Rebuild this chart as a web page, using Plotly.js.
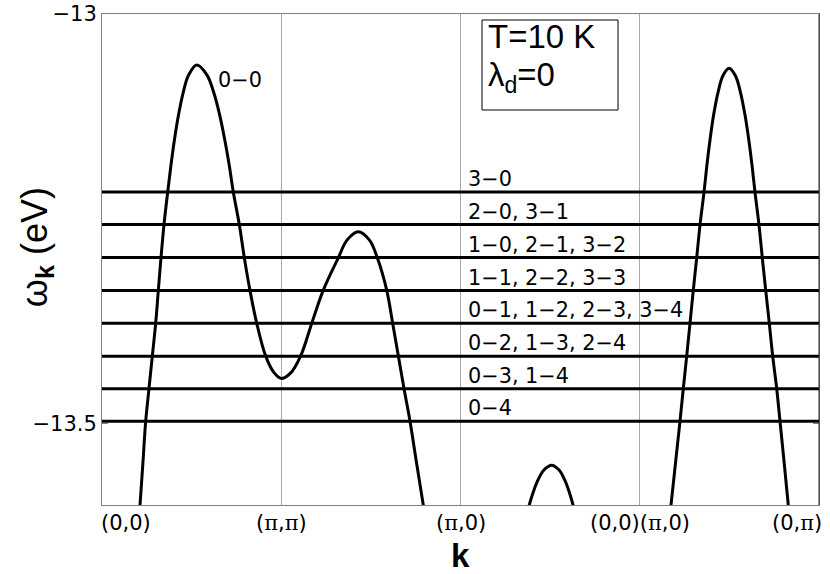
<!DOCTYPE html>
<html>
<head>
<meta charset="utf-8">
<script src="https://cdn.plot.ly/plotly-3.0.1.min.js"></script>
<style>
  html, body { margin: 0; padding: 0; background: #fff; }
  #chart { width: 830px; height: 574px; }
</style>
</head>
<body>
<div id="chart"></div>
<script>
// path coordinate: 0=(0,0), 1=(pi,pi), 2=(pi,0), 3=(0,0)|(pi,0), 4=(0,pi)
const tickPos = [0.134, 1, 2, 3, 3.88];
const tickText = ['(0,0)', '(π,π)', '(π,0)', '(0,0)(π,0)', '(0,π)'];

// phonon replica levels (eV), bottom to top
const levels = [-13.4976, -13.4578, -13.4181, -13.3778, -13.3380, -13.2977, -13.2573, -13.2176];
const levelLabels = [
    '0−4',
    '0−3, 1−4',
    '0−2, 1−3, 2−4',
    '0−1, 1−2, 2−3, 3−4',
    '1−1, 2−2, 3−3',
    '1−0, 2−1, 3−2',
    '2−0, 3−1',
    '3−0'
];

// dispersion branches
const kA = [0.2025, 0.2120, 0.2282, 0.2438, 0.2622, 0.2806, 0.2996, 0.3141, 0.3292, 0.3459, 0.3665, 0.3849, 0.4039,
    0.4268, 0.4536, 0.4831, 0.5283, 0.5858, 0.6226, 0.6566, 0.6851, 0.7096, 0.7325, 0.7660, 0.7939, 0.8257, 0.8631,
    0.9133, 0.9596, 1.0, 1.0516, 1.1085, 1.1699, 1.2346, 1.3183, 1.3668, 1.4298, 1.4923, 1.5359, 1.5883, 1.6218,
    1.6530, 1.6848, 1.7183, 1.7551, 1.7925, 1.8148];
const wA = [-13.6308, -13.6002, -13.5489, -13.4976, -13.4576, -13.4181, -13.3778, -13.3380, -13.2977, -13.2573,
    -13.2176, -13.1846, -13.1540, -13.1235, -13.0954, -13.0746, -13.0623, -13.0746, -13.0954, -13.1235, -13.1540,
    -13.1846, -13.2176, -13.2573, -13.2977, -13.3380, -13.3778, -13.4181, -13.4383, -13.4454, -13.4389, -13.4177,
    -13.3781, -13.3374, -13.2979, -13.2763, -13.2661, -13.2763, -13.2979, -13.3374, -13.3781, -13.4177, -13.4576,
    -13.4976, -13.5489, -13.6002, -13.6308];

const kB = [2.3626, 2.3822, 2.4056, 2.4318, 2.4642, 2.5088, 2.5512, 2.5819, 2.6070, 2.6293, 2.6499];
const wB = [-13.6186, -13.6011, -13.5844, -13.5697, -13.5575, -13.5513, -13.5575, -13.5697, -13.5844, -13.6011, -13.6186];

const kC = [3.1593, 3.1743, 3.1994, 3.2246, 3.2430, 3.2619, 3.2803, 3.2987, 3.3177, 3.3361, 3.3584, 3.3746, 3.3919,
    3.4120, 3.4371, 3.4633, 3.4979, 3.5342, 3.5615, 3.5872, 3.6084, 3.6262, 3.6430, 3.6653, 3.6837, 3.7026, 3.7228,
    3.7417, 3.7640, 3.7824, 3.8059, 3.8287, 3.8427];
const wC = [-13.6308, -13.6002, -13.5489, -13.4976, -13.4576, -13.4181, -13.3781, -13.3374, -13.2979, -13.2579,
    -13.2180, -13.1846, -13.1540, -13.1235, -13.0954, -13.0758, -13.0664, -13.0758, -13.0954, -13.1235, -13.1540,
    -13.1846, -13.2180, -13.2579, -13.2979, -13.3374, -13.3781, -13.4181, -13.4576, -13.4976, -13.5489, -13.6002,
    -13.6308];

const labelFont = { family: 'DejaVu Sans, sans-serif', size: 20.8, color: '#000' };
const tickFont = { family: 'DejaVu Sans, sans-serif', size: 21, color: '#000' };
const boxFont = { family: 'Liberation Sans, Arial, sans-serif', size: 33, color: '#000' };

const traces = [];

levels.forEach(v => {
    traces.push({
        x: [0, 4], y: [v, v], type: 'scatter', mode: 'lines',
        line: { color: '#000', width: 3 }, hoverinfo: 'skip', showlegend: false
    });
});

[[kA, wA], [kB, wB], [kC, wC]].forEach(([k, w]) => {
    traces.push({
        x: k, y: w, type: 'scatter', mode: 'lines',
        line: { color: '#000', width: 3, shape: 'spline', smoothing: 1 },
        hoverinfo: 'skip', showlegend: false
    });
});

const annotations = [];

levels.forEach((v, i) => {
    annotations.push({
        x: 2.036, y: v, xref: 'x', yref: 'y', xanchor: 'left', yanchor: 'bottom',
        text: levelLabels[i], showarrow: false, font: labelFont, borderpad: 0
    });
});

annotations.push({
    x: 0.636, y: -13.0807, xref: 'x', yref: 'y', xanchor: 'left', yanchor: 'middle',
    text: '0−0', showarrow: false, font: labelFont
});

tickPos.forEach((p, i) => {
    const txt = tickText[i].replace(/π/g, '<span style="font-family:DejaVu Serif">π</span>');
    annotations.push({
        x: p, y: 0, xref: 'x', yref: 'paper', xanchor: 'center', yanchor: 'top', yshift: -4,
        text: txt, showarrow: false, font: tickFont
    });
});

// legend box text
annotations.push({
    x: 0.5356, y: 0.955, xref: 'paper', yref: 'paper', xanchor: 'left', yanchor: 'middle',
    text: 'T=10 K', showarrow: false, font: boxFont
});
annotations.push({
    x: 0.5356, y: 0.871, xref: 'paper', yref: 'paper', xanchor: 'left', yanchor: 'middle',
    text: 'λ<sub>d</sub>=0', showarrow: false, font: boxFont
});

// axis titles
annotations.push({
    x: -0.0907, y: 0.525, xref: 'paper', yref: 'paper', xanchor: 'center', yanchor: 'middle',
    textangle: -90, text: 'ω<sub><b>k</b></sub> (eV)', showarrow: false,
    font: { family: 'Liberation Sans, Arial, sans-serif', size: 36, color: '#000' }
});
annotations.push({
    x: 0.5, y: -0.102, xref: 'paper', yref: 'paper', xanchor: 'center', yanchor: 'middle',
    text: '<b>k</b>', showarrow: false,
    font: { family: 'Liberation Sans, Arial, sans-serif', size: 33, color: '#000' }
});

const layout = {
    width: 830, height: 574,
    margin: { l: 102, r: 11, t: 14, b: 69 },
    paper_bgcolor: '#fff', plot_bgcolor: '#fff',
    showlegend: false,
    xaxis: {
        range: [0, 4], tickvals: [1, 2, 3], showticklabels: false, ticks: '',
        showgrid: true, gridcolor: '#a8a8a8', gridwidth: 1, zeroline: false,
        showline: true, linecolor: '#808080', linewidth: 1, mirror: true, fixedrange: true
    },
    yaxis: {
        range: [-13.6, -13], tickvals: [-13.5, -13], ticktext: ['−13.5', '−13'],
        ticks: 'inside', ticklen: 6, tickcolor: '#808080', tickfont: tickFont,
        showgrid: false, zeroline: false,
        showline: true, linecolor: '#808080', linewidth: 1, mirror: 'ticks', fixedrange: true
    },
    shapes: [
        { type: 'rect', xref: 'paper', yref: 'paper', x0: 0.530, x1: 0.7197, y0: 0.8045, y1: 0.9878,
          line: { color: '#000', width: 1 }, fillcolor: '#fff' },
        { type: 'line', xref: 'paper', yref: 'paper', x0: 1, x1: 1, y0: 0, y1: 1,
          line: { color: '#222', width: 1 } }
    ],
    annotations: annotations
};

Plotly.newPlot('chart', traces, layout, { displayModeBar: false, staticPlot: true });
</script>
</body>
</html>
